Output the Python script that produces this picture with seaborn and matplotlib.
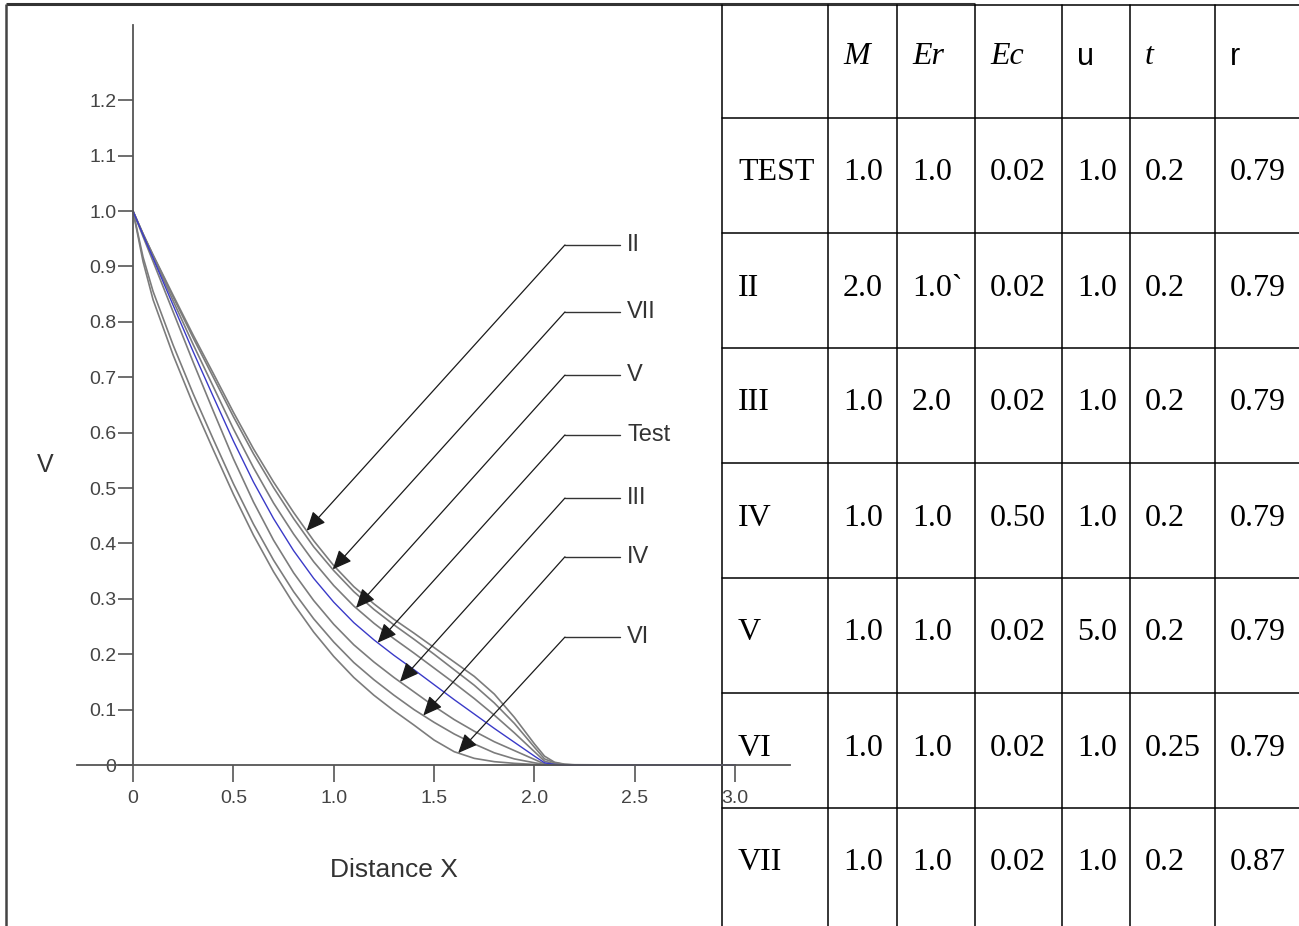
import numpy as np
import pandas as pd
import matplotlib
matplotlib.use("Agg")
import matplotlib.pyplot as plt
import seaborn as sns

# velocity profiles V(x)
x_grid = [0, 0.05, 0.1, 0.2, 0.3, 0.4, 0.5, 0.6, 0.7, 0.8, 0.9, 1.0, 1.1, 1.2, 1.3,
          1.4, 1.5, 1.6, 1.7, 1.8, 1.9, 2.0, 2.05, 2.1, 2.15, 2.2, 2.5, 3.0]

v_II = [1.0, 0.959, 0.921, 0.848, 0.776, 0.707, 0.637, 0.571, 0.511, 0.456, 0.405, 0.360, 0.322, 0.291,
        0.263, 0.238, 0.212, 0.186, 0.160, 0.128, 0.086, 0.038, 0.016, 0.005, 0.0015, 0.0005, 0.0, 0.0]
v_VII = [1.0, 0.959, 0.920, 0.845, 0.771, 0.700, 0.629, 0.562, 0.501, 0.445, 0.394, 0.351, 0.313, 0.281,
         0.253, 0.227, 0.200, 0.172, 0.144, 0.112, 0.075, 0.032, 0.011, 0.004, 0.001, 0.0, 0.0, 0.0]
v_V = [1.0, 0.958, 0.918, 0.838, 0.759, 0.683, 0.607, 0.537, 0.473, 0.417, 0.367, 0.324, 0.287, 0.256,
       0.228, 0.202, 0.175, 0.148, 0.120, 0.090, 0.058, 0.024, 0.007, 0.002, 0.0, 0.0, 0.0, 0.0]
v_Test = [1.0, 0.957, 0.915, 0.830, 0.746, 0.665, 0.585, 0.511, 0.445, 0.387, 0.337, 0.294, 0.257, 0.226,
          0.198, 0.172, 0.145, 0.118, 0.092, 0.066, 0.041, 0.016, 0.004, 0.001, 0.0, 0.0, 0.0, 0.0]
v_III = [1.0, 0.954, 0.909, 0.818, 0.727, 0.639, 0.553, 0.475, 0.406, 0.347, 0.297, 0.254, 0.217, 0.186,
         0.158, 0.132, 0.106, 0.082, 0.061, 0.042, 0.026, 0.010, 0.002, 0.001, 0.0, 0.0, 0.0, 0.0]
v_IV = [1.0, 0.917, 0.855, 0.758, 0.670, 0.588, 0.508, 0.435, 0.370, 0.313, 0.264, 0.222, 0.185, 0.154,
        0.126, 0.100, 0.077, 0.056, 0.038, 0.022, 0.011, 0.004, 0.001, 0.0, 0.0, 0.0, 0.0, 0.0]
v_VI = [1.0, 0.909, 0.840, 0.740, 0.651, 0.569, 0.489, 0.415, 0.349, 0.291, 0.240, 0.196, 0.158, 0.126,
        0.098, 0.072, 0.045, 0.024, 0.012, 0.006, 0.003, 0.001, 0.0, 0.0, 0.0, 0.0, 0.0, 0.0]

curve_names = ["II", "VII", "V", "Test", "III", "IV", "VI"]
curve_vals = [v_II, v_VII, v_V, v_Test, v_III, v_IV, v_VI]

# where each arrow touches its curve, and height of its label
arrow_x = [0.865, 0.995, 1.111, 1.219, 1.33, 1.446, 1.62]
label_y = [0.939, 0.818, 0.704, 0.596, 0.482, 0.376, 0.231]

x_ticks = [0, 0.5, 1.0, 1.5, 2.0, 2.5, 3.0]
x_ticklabels = ["0", "0.5", "1.0", "1.5", "2.0", "2.5", "3.0"]
y_ticks = [0, 0.1, 0.2, 0.3, 0.4, 0.5, 0.6, 0.7, 0.8, 0.9, 1.0, 1.1, 1.2]
y_ticklabels = ["0", "0.1", "0.2", "0.3", "0.4", "0.5", "0.6", "0.7", "0.8", "0.9", "1.0", "1.1", "1.2"]

# parameter table
row_names = ["TEST", "II", "III", "IV", "V", "VI", "VII"]
col_M = ["1.0", "2.0", "1.0", "1.0", "1.0", "1.0", "1.0"]
col_Er = ["1.0", "1.0`", "2.0", "1.0", "1.0", "1.0", "1.0"]
col_Ec = ["0.02", "0.02", "0.02", "0.50", "0.02", "0.02", "0.02"]
col_u = ["1.0", "1.0", "1.0", "1.0", "5.0", "1.0", "1.0"]
col_t = ["0.2", "0.2", "0.2", "0.2", "0.2", "0.25", "0.2"]
col_r = ["0.79", "0.79", "0.79", "0.79", "0.79", "0.79", "0.87"]
headers = ["M", "Er", "Ec", "u", "t", "r"]
header_italic = [True, True, True, False, True, False]

sns.set_theme(style="white")
plt.rcParams["font.family"] = ["Liberation Sans", "DejaVu Sans"]

W, H = 1299, 926
fig = plt.figure(figsize=(W / 100, H / 100), dpi=100)

# overlay in pixel coordinates for frame and table
ov = fig.add_axes([0, 0, 1, 1], zorder=0)
ov.set_xlim(0, W)
ov.set_ylim(H, 0)
ov.axis("off")

ax = fig.add_axes([77 / W, (H - 765) / H, 713 / W, 740 / H], zorder=1)
ax.patch.set_alpha(0)

df = pd.DataFrame({
    "x": np.tile(x_grid, len(curve_names)),
    "V": np.concatenate(curve_vals),
    "curve": np.repeat(curve_names, len(x_grid)),
})
palette = {n: "#7c7c7c" for n in curve_names}
palette["Test"] = "#3a3ac8"

sns.lineplot(data=df[df["curve"] != "Test"], x="x", y="V", hue="curve", palette=palette,
             estimator=None, sort=False, legend=False, lw=1.2, ax=ax)
sns.lineplot(data=df[df["curve"] == "Test"], x="x", y="V", color=palette["Test"],
             estimator=None, sort=False, legend=False, lw=1.0, ax=ax)
for ln in ax.lines:
    ln.set_clip_on(False)

# arrows and labels
for name, vals, ax_x, ly in zip(curve_names, curve_vals, arrow_x, label_y):
    tip_y = np.interp(ax_x, x_grid, vals)
    ax.plot([2.152, 2.427], [ly, ly], color="#333333", lw=1.0, clip_on=False)
    ax.annotate("", xy=(ax_x, tip_y), xytext=(2.152, ly),
                arrowprops=dict(arrowstyle="-|>,head_length=0.9,head_width=0.4",
                                mutation_scale=13, color="#1a1a1a", lw=0.9,
                                shrinkA=0, shrinkB=0))
    ax.text(2.462, ly, name, fontsize=17, color="#333333", va="center", ha="left")

ax.set_xlim(-0.279, 3.273)
ax.set_ylim(0, 1.336)
ax.set_xticks(x_ticks)
ax.set_xticklabels(x_ticklabels)
ax.set_yticks(y_ticks)
ax.set_yticklabels(y_ticklabels)
for s in ["top", "right"]:
    ax.spines[s].set_visible(False)
ax.spines["left"].set_position(("data", 0))
for s in ["left", "bottom"]:
    ax.spines[s].set_color("#555555")
    ax.spines[s].set_linewidth(1.3)
ax.tick_params(axis="x", direction="out", length=12, width=1.2, color="#555555",
               labelcolor="#444444", labelsize=14, pad=6, bottom=True)
ax.tick_params(axis="y", direction="out", length=11, width=1.2, color="#555555",
               labelcolor="#444444", labelsize=14, pad=1, left=True)

ax.set_xlabel("Distance X", fontsize=19, color="#333333")
ax.xaxis.set_label_coords(0.445, -0.126)
ax.set_ylabel("V", fontsize=18, color="#333333", rotation=0, va="center", ha="center")
ax.yaxis.set_label_coords(-0.045, 0.405)

# frame of left panel
ov.plot([6, 975], [4, 4], color="#333333", lw=2.2, solid_capstyle="butt")
ov.plot([6, 6], [4, H], color="#444444", lw=1.8, solid_capstyle="butt")

# table grid
col_edges = [722, 828, 897, 975, 1062, 1130, 1215]
header_bottom = 118
row_h = 115
ov.plot([975, W], [5, 5], color="black", lw=1.1)
for cx in col_edges:
    ov.plot([cx, cx], [5, H], color="black", lw=1.1)
for k in range(len(row_names)):
    yy = header_bottom + k * row_h
    ov.plot([722, W], [yy, yy], color="black", lw=1.1)

serif = ["Liberation Serif", "DejaVu Serif"]
pad = 15
for j, (h, it) in enumerate(zip(headers, header_italic)):
    if it:
        ov.text(col_edges[j + 1] + pad, 57, h, fontsize=23, family=serif, style="italic",
                va="center", ha="left", color="black")
    else:
        ov.text(col_edges[j + 1] + pad, 57, h, fontsize=22, family=["Liberation Sans", "DejaVu Sans"],
                va="center", ha="left", color="black")

columns = [row_names, col_M, col_Er, col_Ec, col_u, col_t, col_r]
for j, col in enumerate(columns):
    for i, val in enumerate(col):
        ov.text(col_edges[j] + pad + (1 if j == 0 else 0), 173 + i * row_h, val, fontsize=23,
                family=serif, va="center", ha="left", color="black")

fig.savefig("out.png", dpi=100)
